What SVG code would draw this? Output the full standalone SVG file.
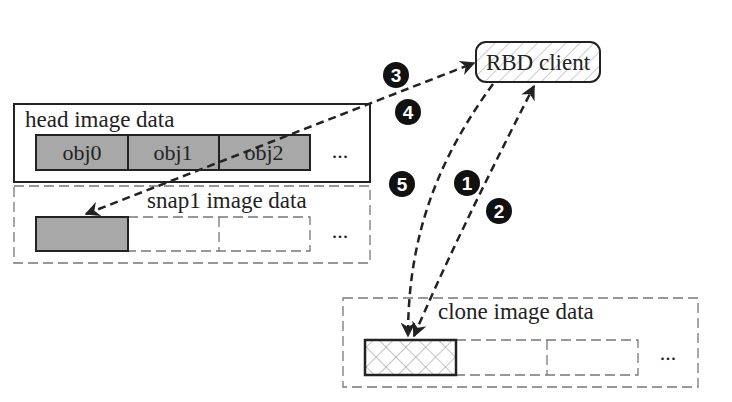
<svg xmlns="http://www.w3.org/2000/svg" width="732" height="402" viewBox="0 0 732 402">
<style>
text{font-family:"Liberation Serif","DejaVu Serif",serif;fill:#222}
.lbl{font-size:23px}
.obj{font-size:22px}
.solid{fill:none;stroke:#222;stroke-width:2}
.dbox{fill:none;stroke:#777;stroke-width:1.3;stroke-dasharray:10 5}
.gray{fill:#a8a8a8;stroke:#222;stroke-width:2}
.conn{fill:none;stroke:#222;stroke-width:2.5;stroke-dasharray:8 5}
.num circle{fill:#111}
.num text{fill:#fff;font-family:"Liberation Sans",Arial,sans-serif;font-size:19px;font-weight:bold;text-anchor:middle}
</style>
<defs>
<pattern id="hatch" patternUnits="userSpaceOnUse" width="10" height="10" patternTransform="rotate(45)">
<line x1="0" y1="0" x2="0" y2="10" stroke="#999" stroke-width="1"/>
</pattern>
<pattern id="cross" patternUnits="userSpaceOnUse" width="14" height="14" patternTransform="rotate(45)">
<line x1="0" y1="0" x2="0" y2="14" stroke="#888" stroke-width="1"/>
<line x1="0" y1="0" x2="14" y2="0" stroke="#888" stroke-width="1"/>
</pattern>
<marker id="ah" viewBox="0 0 10 10" refX="9" refY="5" markerWidth="6" markerHeight="6" orient="auto-start-reverse" markerUnits="strokeWidth">
<path d="M0,0 L10,5 L0,10 L3,5 z" fill="#222"/>
</marker>
</defs>

<g id="head">
<rect class="solid" x="14" y="104" width="356" height="78"/>
<text class="lbl" x="25" y="127">head image data</text>
<rect class="gray" x="36" y="135" width="92" height="35"/>
<rect class="gray" x="128" y="135" width="91" height="35"/>
<rect class="gray" x="219" y="135" width="91" height="35"/>
<text class="obj" x="82" y="160" text-anchor="middle">obj0</text>
<text class="obj" x="173" y="160" text-anchor="middle">obj1</text>
<text class="obj" x="264" y="160" text-anchor="middle">obj2</text>
<text class="obj" x="340" y="158" text-anchor="middle">...</text>
</g>

<g id="snap1">
<rect class="dbox" x="14" y="186" width="356" height="77"/>
<text class="lbl" x="147" y="208">snap1 image data</text>
<rect class="dbox" x="128" y="217" width="182" height="34"/>
<line class="dbox" x1="219" y1="217" x2="219" y2="251"/>
<rect class="gray" x="36" y="217" width="92" height="34"/>
<text class="obj" x="340" y="238" text-anchor="middle">...</text>
</g>

<g id="rbd">
<rect x="476" y="42" width="124" height="40" rx="10" fill="url(#hatch)" stroke="#222" stroke-width="2"/>
<text class="lbl" x="538" y="70" text-anchor="middle">RBD client</text>
</g>

<g id="clone">
<rect class="dbox" x="343" y="298" width="355" height="89"/>
<text class="lbl" x="438" y="319">clone image data</text>
<rect class="dbox" x="456" y="340" width="182" height="35"/>
<line class="dbox" x1="547" y1="340" x2="547" y2="375"/>
<rect x="365" y="340" width="91" height="35" fill="url(#cross)" stroke="#222" stroke-width="2.5"/>
<text class="obj" x="668" y="360" text-anchor="middle">...</text>
</g>

<g id="connectors">
<line class="conn" x1="86" y1="214" x2="474" y2="63" marker-start="url(#ah)" marker-end="url(#ah)"/>
<path class="conn" d="M493,84 C445,150 408,225 408,336" marker-end="url(#ah)"/>
<path class="conn" d="M414,336 Q455,240 534,86" marker-start="url(#ah)" marker-end="url(#ah)"/>
</g>

<g id="numbers">
<g class="num"><circle cx="396" cy="75" r="13"/><text x="396" y="82">3</text></g>
<g class="num"><circle cx="408" cy="112" r="13"/><text x="408" y="119">4</text></g>
<g class="num"><circle cx="402" cy="184" r="13"/><text x="402" y="191">5</text></g>
<g class="num"><circle cx="467" cy="183" r="13"/><text x="467" y="190">1</text></g>
<g class="num"><circle cx="499" cy="211" r="13"/><text x="499" y="218">2</text></g>
</g>
</svg>
